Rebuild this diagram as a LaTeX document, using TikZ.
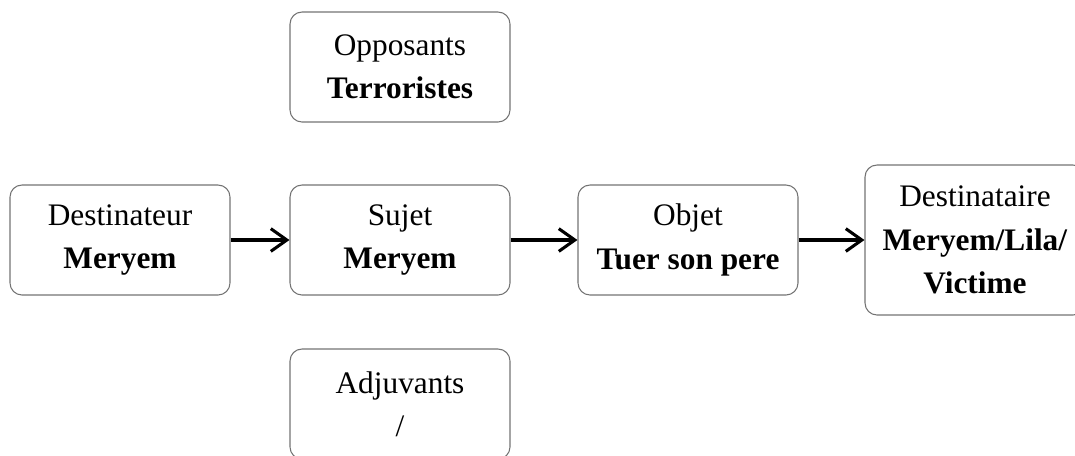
\documentclass[tikz,border=0pt]{standalone}
\usepackage{fontspec}
\setmainfont{Liberation Serif}
\usetikzlibrary{arrows.meta}
\tikzset{
  box/.style={draw=black!55, line width=0.8pt, rounded corners=9pt, align=center,
    minimum width=165pt, minimum height=82.5pt, inner sep=0pt,
    font=\fontsize{23.5}{32.5}\selectfont},
  conn/.style={line width=2.3pt, -{Straight Barb[length=12pt,width=17pt,line width=2.3pt]}}
}
\begin{document}
\begin{tikzpicture}[x=0.75pt,y=-0.75pt]
\useasboundingbox (0,0) rectangle (1075,455);
\clip (0,0) rectangle (1075,455);
\node[box] (opp) at (400,67) {Opposants\\\textbf{Terroristes}};
\node[box] (dest) at (120,240) {\raisebox{-3pt}{\parbox{160pt}{\centering Destinateur\\\textbf{Meryem}}}};
\node[box] (suj) at (400,240) {\raisebox{-3pt}{\parbox{160pt}{\centering Sujet\\\textbf{Meryem}}}};
\node[box] (obj) at (688,240) {\raisebox{-3pt}{\parbox{160pt}{\centering Objet\\\textbf{Tuer son pere}}}};
\node[box, minimum height=112.5pt] (dtaire) at (975,240) {Destinataire\\\textbf{Meryem/Lila/}\\\textbf{Victime}};
\node[box] (adj) at (400,404) {Adjuvants\\/};
\draw[conn] (dest.east) -- (suj.west);
\draw[conn] (suj.east) -- (obj.west);
\draw[conn] (obj.east) -- (dtaire.west);
\end{tikzpicture}
\end{document}
